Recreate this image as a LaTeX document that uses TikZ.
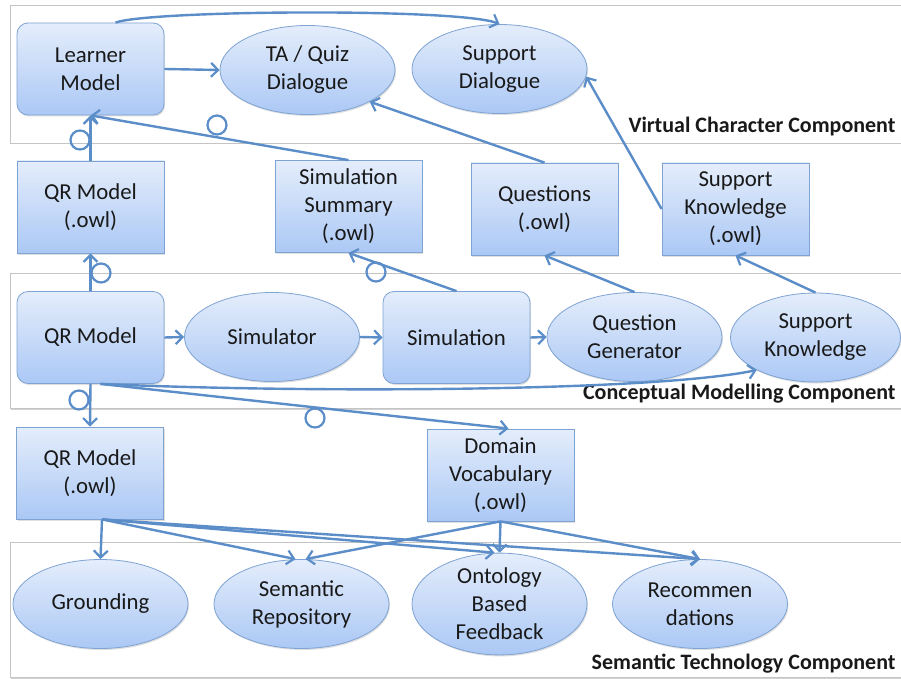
\documentclass[tikz,border=0pt]{standalone}
\usepackage{fontspec}
\setmainfont{Carlito}
\usetikzlibrary{shapes.geometric,arrows.meta,shadows}
\definecolor{linec}{HTML}{5B8DC8}
\definecolor{topc}{HTML}{E4EDFB}
\definecolor{botc}{HTML}{ABC8F5}
\definecolor{bordc}{HTML}{7FA3D3}
\definecolor{framec}{HTML}{C4C4C4}
\begin{document}
\begin{tikzpicture}[x=1pt,y=-1pt,
 every node/.style={font=\fontsize{22.8}{28}\selectfont, align=center, text=black!90},
 shp/.style={draw=bordc, line width=0.8pt, top color=topc, bottom color=botc,
   drop shadow={shadow xshift=1pt,shadow yshift=-1.5pt,opacity=0.25}},
 rbox/.style={shp, rectangle, rounded corners=11pt, minimum width=147pt, minimum height=92pt, inner sep=0pt},
 sbox/.style={shp, rectangle, minimum width=147pt, minimum height=92pt, inner sep=0pt},
 ell/.style={shp, ellipse, minimum width=175pt, minimum height=89pt, inner sep=0pt},
 arr/.style={draw=linec, line width=2.4pt, -{Straight Barb[length=7pt,width=14pt,line width=2.2pt]}},
 ring/.style={draw=linec, line width=2.2pt},
 compframe/.style={draw=framec, line width=0.8pt, fill=white,
   drop shadow={shadow xshift=0.5pt,shadow yshift=-1.5pt,opacity=0.35}},
 lab/.style={font=\fontsize{22}{26}\selectfont\bfseries, anchor=base east}
]
\useasboundingbox (0,0) rectangle (901,679);
\fill[white] (0,0) rectangle (901,679);

% component frames
\draw[compframe] (10,5) rectangle (915,143);
\draw[compframe] (10,273) rectangle (915,408);
\draw[compframe] (10,542) rectangle (915,677);

% labels
\node[lab] (l1) at (899,133) {Virtual Character Component};
\node[lab] (l2) at (899,399) {Conceptual Modelling Component};
\node[lab] (l3) at (899,669) {Semantic Technology Component};

% nodes
\node[rbox] (lm) at (90.5,69) {Learner\\Model};
\node[ell] (ta) at (307.5,70) {TA / Quiz\\Dialogue};
\node[ell] (sd) at (499.5,69) {Support\\Dialogue};
\node[sbox] (qo1) at (90.5,207) {QR Model\\(.owl)};
\node[sbox] (ss) at (348.5,206.5) {Simulation\\Summary\\(.owl)};
\node[sbox] (qs) at (544.5,209) {Questions\\(.owl)};
\node[sbox] (sko) at (735.5,209) {Support\\Knowledge\\(.owl)};
\node[rbox] (qr) at (90.5,337.5) {QR Model};
\node[ell] (sim) at (272,337) {Simulator};
\node[rbox] (sn) at (456.5,337.5) {Simulation};
\node[ell] (qg) at (634.5,337) {Question\\Generator};
\node[ell, minimum width=170pt] (ske) at (815.5,337.5) {Support\\Knowledge};
\node[sbox] (qo2) at (90,473) {QR Model\\(.owl)};
\node[sbox] (dv) at (500.5,475) {Domain\\Vocabulary\\(.owl)};
\node[ell] (gr) at (100.5,604) {Grounding};
\node[ell] (sr) at (301.5,604) {Semantic\\Repository};
\node[ell] (ob) at (499.5,604) {Ontology\\Based\\Feedback};
\node[ell] (rc) at (700,604) {Recommen\\dations};

% connectors: virtual character
\draw[arr] (lm.east) -- (ta.west);
\draw[arr] ([xshift=25pt]lm.north) .. controls (150,10) and (460,8) .. (sd.north);
\draw[arr] (qo1.north) -- (lm.south);
\draw[arr] (ss.north) -- (lm.south);
\draw[arr] (qs.north) -- (ta.-27);
\draw[arr] (sko.west) -- (sd.-5);

% connectors: conceptual modelling
\draw[arr] (qr.north) -- (qo1.south);
\draw[arr] (sn.north) -- (ss.south);
\draw[arr] (qg.north) -- (qs.south);
\draw[arr] (ske.north) -- (sko.south);
\draw[arr] (qr.east) -- (sim.west);
\draw[arr] (sim.east) -- (sn.west);
\draw[arr] (sn.east) -- (qg.west);
\draw[arr] ([xshift=10pt]qr.south) .. controls (300,393) and (650,392) .. (ske.209);
\draw[arr] ([xshift=10pt]qr.south) -- ([xshift=8pt]dv.north);
\draw[arr] (qr.south) -- (qo2.north);

% connectors: semantic technology
\draw[arr] ([xshift=12pt]qo2.south) -- (gr.north);
\draw[arr] ([xshift=12pt]qo2.south) -- ([xshift=-6pt]sr.north);
\draw[arr] ([xshift=12pt]qo2.south) -- ([xshift=-5pt]ob.north);
\draw[arr] ([xshift=12pt]qo2.south) -- (rc.north);
\draw[arr] (dv.south) -- ([xshift=4pt]sr.north);
\draw[arr] (dv.south) -- (ob.north);
\draw[arr] (dv.south) -- (rc.north);

% ring markers
\draw[ring] (80,140) circle[radius=9.5pt];
\draw[ring] (217,125) circle[radius=9.5pt];
\draw[ring] (101,273) circle[radius=9.5pt];
\draw[ring] (376,272) circle[radius=9.5pt];
\draw[ring] (79,400) circle[radius=9.5pt];
\draw[ring] (315,418) circle[radius=9.5pt];
\end{tikzpicture}
\end{document}
